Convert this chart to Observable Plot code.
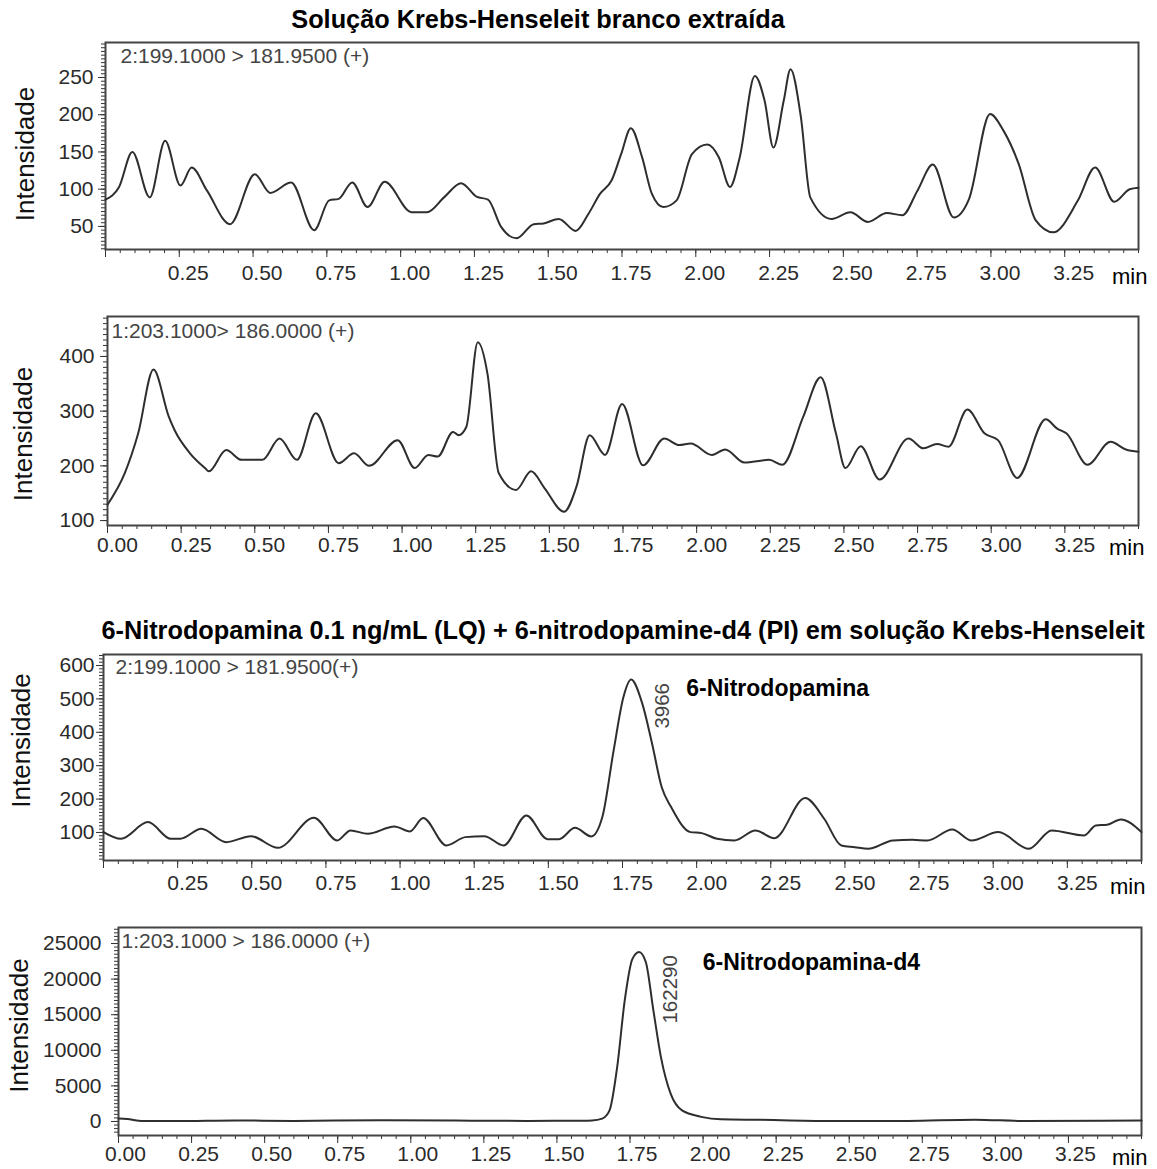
<!DOCTYPE html>
<html><head><meta charset="utf-8">
<script src="https://cdn.jsdelivr.net/npm/d3@7"></script>
<script src="https://cdn.jsdelivr.net/npm/@observablehq/plot@0.6"></script>
<style>
body{margin:0;background:#fff;}
#root{position:relative;width:1157px;height:1169px;overflow:hidden;font-family:"Liberation Sans",Arial,sans-serif;background:#fff;}
.title{position:absolute;font-weight:bold;font-size:25.3px;line-height:25.3px;white-space:nowrap;transform:translateX(-50%);color:#000;z-index:2;}
.panel{position:absolute;left:0;z-index:1;}
</style></head><body><div id="root"></div>
<script>
// ---------- data ----------
const titles = ["Solução Krebs-Henseleit branco extraída",
  "6-Nitrodopamina 0.1 ng/mL (LQ) + 6-nitrodopamine-d4 (PI) em solução Krebs-Henseleit"];
const channels = ["2:199.1000 > 181.9500 (+)", "1:203.1000> 186.0000 (+)",
  "2:199.1000 > 181.9500(+)", "1:203.1000 > 186.0000 (+)"];
const yAxisLabel = "Intensidade";
const xUnit = "min";

// Panel 1: blank, 199.1 > 181.95
const time1 = [0.00,0.046,0.091,0.15,0.202,0.254,0.292,0.344,0.422,0.506,0.558,0.629,0.707,0.758,0.79,0.836,0.888,0.946,1.037,1.089,1.147,1.205,1.257,1.296,1.341,1.393,1.451,1.484,1.536,1.593,1.635,1.676,1.715,1.747,1.78,1.818,1.851,1.89,1.935,1.987,2.039,2.078,2.116,2.149,2.2,2.233,2.263,2.298,2.321,2.356,2.388,2.46,2.524,2.583,2.647,2.7,2.751,2.803,2.874,2.926,2.997,3.042,3.094,3.152,3.211,3.295,3.353,3.418,3.47,3.5];
const int1  = [86,103,150,89,165,105,129,98,53,120,95,109,45,85,87,109,76,110,69,69,89,108,90,86,49,34,53,54,60,44,66,94,112,147,182,143,94,76,85,147,160,143,103,143,252,219,156,219,261,197,89,60,69,56,68,65,98,133,62,87,201,179,134,58,42,85,129,83,100,102];

// Panel 2: blank, 203.1 > 186.0
const time2 = [0.00,0.059,0.104,0.156,0.208,0.228,0.28,0.331,0.344,0.403,0.455,0.526,0.584,0.643,0.707,0.785,0.837,0.888,0.985,1.043,1.089,1.121,1.173,1.192,1.218,1.257,1.29,1.328,1.387,1.438,1.484,1.55,1.592,1.637,1.689,1.747,1.818,1.89,1.941,1.98,2.052,2.097,2.162,2.246,2.291,2.362,2.421,2.473,2.505,2.557,2.621,2.719,2.77,2.816,2.855,2.919,2.978,3.023,3.088,3.185,3.224,3.256,3.327,3.405,3.457,3.5];
const int2  = [129,187,259,376,290,265,223,196,190,229,211,211,250,211,296,205,223,200,247,196,220,217,262,256,271,426,368,187,156,190,159,116,162,256,220,313,201,250,238,241,220,230,206,211,202,290,362,259,196,236,175,250,232,240,235,303,259,247,178,285,268,259,202,244,230,226];

// Panel 3: LQ sample, 199.1 > 181.95
const time3 = [0.00,0.059,0.15,0.227,0.259,0.33,0.414,0.497,0.588,0.71,0.788,0.833,0.891,0.981,1.033,1.078,1.156,1.22,1.284,1.349,1.426,1.497,1.536,1.59,1.645,1.682,1.72,1.753,1.779,1.817,1.85,1.882,1.914,1.979,2.017,2.069,2.127,2.198,2.262,2.366,2.43,2.488,2.533,2.578,2.662,2.727,2.778,2.862,2.927,3.017,3.12,3.197,3.307,3.346,3.384,3.43,3.5];
const int3  = [101,81,131,81,81,111,71,89,54,144,76,106,96,118,103,143,61,86,89,61,151,80,80,114,88,146,345,505,558,485,365,236,176,101,98,81,76,106,83,203,141,61,56,51,76,78,76,109,76,101,51,106,91,121,123,139,101];

// Panel 4: LQ sample, 203.1 > 186.0 (internal standard)
const time4 = [0.00,0.03,0.08,0.2,0.4,0.6,0.9,1.15,1.4,1.55,1.62,1.655,1.68,1.706,1.732,1.758,1.781,1.804,1.83,1.856,1.889,1.928,1.994,2.06,2.2,2.45,2.7,2.93,3.1,3.5];
const int4  = [420,350,60,60,150,80,180,120,80,100,150,400,1550,7600,17000,22800,23800,22400,15600,9000,3900,1550,650,300,230,60,80,250,60,120];

const peakNames = ["6-Nitrodopamina", "6-Nitrodopamina-d4"];
const peakAreas = ["3966", "162290"];

const xTicksA = [0.25,0.5,0.75,1,1.25,1.5,1.75,2,2.25,2.5,2.75,3,3.25];
const xTicksB = [0,0.25,0.5,0.75,1,1.25,1.5,1.75,2,2.25,2.5,2.75,3,3.25];
const yTicks1 = [50,100,150,200,250];
const yTicks2 = [100,200,300,400];
const yTicks3 = [100,200,300,400,500,600];
const yTicks4 = [0,5000,10000,15000,20000,25000];

// ---------- drawing ----------
const FONT = '"Liberation Sans", Arial, sans-serif';
const root = document.getElementById("root");
const xMinor = d3.range(0, 71).map(i => i * 0.05);

function addTitle(text, cx, top) {
  const d = document.createElement("div");
  d.className = "title"; d.textContent = text;
  d.style.left = cx + "px"; d.style.top = top + "px";
  root.appendChild(d);
}

function panel(c) {
  const data = c.t.map((d, i) => ({t: d, v: c.v[i]}));
  const svg = Plot.plot({
    width: 1157, height: c.h,
    marginTop: c.mt, marginBottom: c.mb, marginLeft: c.ml, marginRight: c.mr,
    style: {fontFamily: FONT, fontSize: "21px", color: "#333", background: "transparent", overflow: "visible"},
    x: {domain: [0, 3.5]},
    y: {domain: c.yDomain},
    marks: [
      Plot.axisX({ticks: xMinor, tickSize: 4, tickFormat: () => "", fill: "none", label: null}),
      Plot.axisX({ticks: [0, ...xTicksA], tickSize: 8, tickFormat: () => "", fill: "none", label: null}),
      Plot.axisX({ticks: c.xTicks, tickSize: 0, tickPadding: c.xPad, tickFormat: d3.format(".2f"), dx: c.xDx, label: null, fill: "#2a2a2a"}),
      Plot.axisY({ticks: c.yMinor, tickSize: 4, tickFormat: () => "", fill: "none", label: null}),
      Plot.axisY({ticks: c.yTicks, tickSize: 7, tickFormat: () => "", fill: "none", label: null}),
      Plot.axisY({ticks: c.yTicks, tickSize: 0, tickPadding: c.yPad, tickFormat: d3.format("d"), label: null, fill: "#2a2a2a"}),
      Plot.frame({stroke: "#444", strokeWidth: 2}),
      Plot.line(data, {x: "t", y: "v", curve: "monotone-x", stroke: "#2e2e2e", strokeWidth: 2}),
      Plot.text([c.channel], {frameAnchor: "top-left", dx: c.chDx, dy: c.chDy, textAnchor: "start", lineAnchor: "middle", fill: "#444", fontSize: 21}),
      Plot.text([yAxisLabel], {frameAnchor: "left", rotate: -90, dx: c.ylDx, dy: c.ylDy, textAnchor: "middle", lineAnchor: "middle", fontSize: 26, fill: "#111"}),
      Plot.text([xUnit], {frameAnchor: "bottom-right", dx: c.minDx, dy: c.minDy, textAnchor: "end", lineAnchor: "middle", fontSize: 22, fill: "#000"}),
      ...(c.extra || [])
    ]
  });
  const div = document.createElement("div");
  div.className = "panel"; div.style.top = c.top + "px";
  div.appendChild(svg);
  root.appendChild(div);
}

addTitle(titles[0], 538, 7);

panel({t: time1, v: int1, top: 30, h: 259, mt: 12, mb: 40, ml: 105, mr: 19,
  yDomain: [19, 297], yTicks: yTicks1, yMinor: d3.range(20, 297, 5),
  xTicks: xTicksA, xPad: 15.5, xDx: 9, yPad: 12,
  channel: channels[0], chDx: 15, chDy: 14, ylDx: -80, ylDy: 8, minDx: 9, minDy: 27});

panel({t: time2, v: int2, top: 290, h: 275, mt: 26, mb: 40, ml: 107, mr: 19,
  yDomain: [91, 473], yTicks: yTicks2, yMinor: d3.range(100, 473, 10),
  xTicks: xTicksB, xPad: 11.5, xDx: 10, yPad: 13,
  channel: channels[1], chDx: 4, chDy: 15, ylDx: -84, ylDy: 13, minDx: 6, minDy: 22});

addTitle(titles[1], 623, 618);

panel({t: time3, v: int3, top: 640, h: 260, mt: 14, mb: 40, ml: 103, mr: 16,
  yDomain: [16, 633], yTicks: yTicks3, yMinor: d3.range(20, 633, 10),
  xTicks: xTicksA, xPad: 15, xDx: 10, yPad: 9,
  channel: channels[2], chDx: 12, chDy: 13, ylDx: -82, ylDy: -17, minDx: 4, minDy: 26,
  extra: [
    Plot.text([peakNames[0]], {x: 1.965, y: 531, textAnchor: "start", lineAnchor: "middle", fontWeight: "bold", fontSize: 23, fill: "#000"}),
    Plot.text([peakAreas[0]], {x: 1.884, y: 411, rotate: -90, textAnchor: "start", lineAnchor: "middle", fontSize: 20.5, fill: "#444"})
  ]});

panel({t: time4, v: int4, top: 900, h: 269, mt: 27, mb: 34, ml: 118, mr: 16,
  yDomain: [-1970, 27250], yTicks: yTicks4, yMinor: d3.range(-1500, 27250, 500),
  xTicks: xTicksB, xPad: 10.5, xDx: 7, yPad: 17,
  channel: channels[3], chDx: 3, chDy: 14, ylDx: -98.5, ylDy: -6, minDx: 6, minDy: 22.5,
  extra: [
    Plot.text([peakNames[1]], {x: 1.999, y: 22330, textAnchor: "start", lineAnchor: "middle", fontWeight: "bold", fontSize: 23, fill: "#000"}),
    Plot.text([peakAreas[1]], {x: 1.889, y: 13760, rotate: -90, textAnchor: "start", lineAnchor: "middle", fontSize: 20.5, fill: "#444"})
  ]});
</script></body></html>
